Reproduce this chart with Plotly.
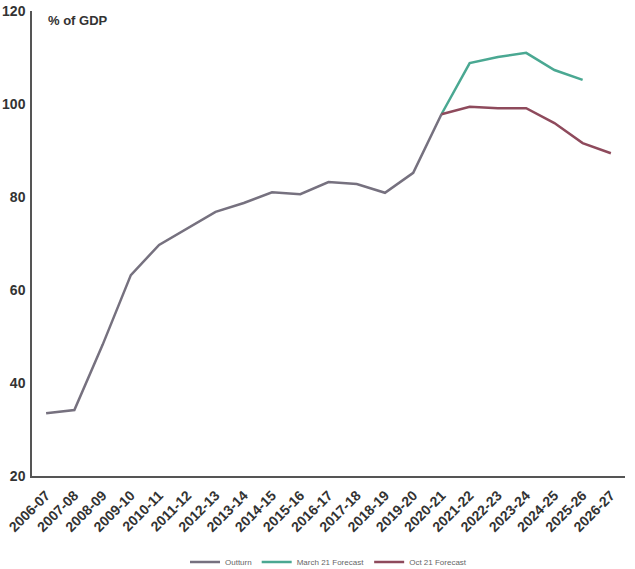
import plotly.graph_objects as go

years = ["2006-07", "2007-08", "2008-09", "2009-10", "2010-11", "2011-12", "2012-13",
         "2013-14", "2014-15", "2015-16", "2016-17", "2017-18", "2018-19", "2019-20",
         "2020-21", "2021-22", "2022-23", "2023-24", "2024-25", "2025-26", "2026-27"]

outturn_years = years[:15]
outturn = [33.5, 34.2, 48.2, 63.2, 69.7, 73.2, 76.8, 78.7, 81.0, 80.6, 83.2, 82.8, 80.9, 85.2, 97.8]

march_years = years[14:20]
march21 = [97.8, 108.8, 110.1, 111.0, 107.3, 105.2]

oct_years = years[14:21]
oct21 = [97.8, 99.4, 99.1, 99.1, 95.9, 91.6, 89.4]

y_ticks = [20, 40, 60, 80, 100, 120]

FONT = "Liberation Sans, Arial, sans-serif"

fig = go.Figure()
fig.add_trace(go.Scatter(x=outturn_years, y=outturn, mode="lines", name="Outturn",
                         line=dict(color="#76717f", width=2.5)))
fig.add_trace(go.Scatter(x=march_years, y=march21, mode="lines", name="March 21 Forecast",
                         line=dict(color="#4aa892", width=2.5)))
fig.add_trace(go.Scatter(x=oct_years, y=oct21, mode="lines", name="Oct 21 Forecast",
                         line=dict(color="#8e4a5c", width=2.5)))

fig.update_layout(
    width=635, height=569,
    margin=dict(l=32, r=10, t=11, b=93, autoexpand=False),
    paper_bgcolor="white", plot_bgcolor="white",
    showlegend=True,
    legend=dict(orientation="h", x=0.5, xanchor="center", y=-0.185, yanchor="middle",
                font=dict(family=FONT, size=8, color="#666666"),
                itemwidth=30, tracegroupgap=0),
    xaxis=dict(type="category", categoryorder="array", categoryarray=years,
               range=[-0.5, 20.5], showgrid=False, showline=True, linecolor="#555555", linewidth=1.5,
               ticks="", tickangle=-45, automargin=False, ticklabelstandoff=4,
               tickfont=dict(family=FONT, size=14, color="#333333", weight="bold"),
               fixedrange=True),
    yaxis=dict(range=[20, 120], tickvals=y_ticks, showgrid=False, showline=True, linecolor="#555555",
               linewidth=1.5, ticks="", zeroline=False, automargin=False, ticklabelstandoff=2,
               tickfont=dict(family=FONT, size=14, color="#333333", weight="bold"),
               fixedrange=True),
    annotations=[dict(text="% of GDP", x=0.023, y=1.0, xref="paper", yref="paper",
                      xanchor="left", yanchor="top", showarrow=False,
                      font=dict(family=FONT, size=13, color="#333333", weight="bold"))],
)

fig.write_html("out.html")
